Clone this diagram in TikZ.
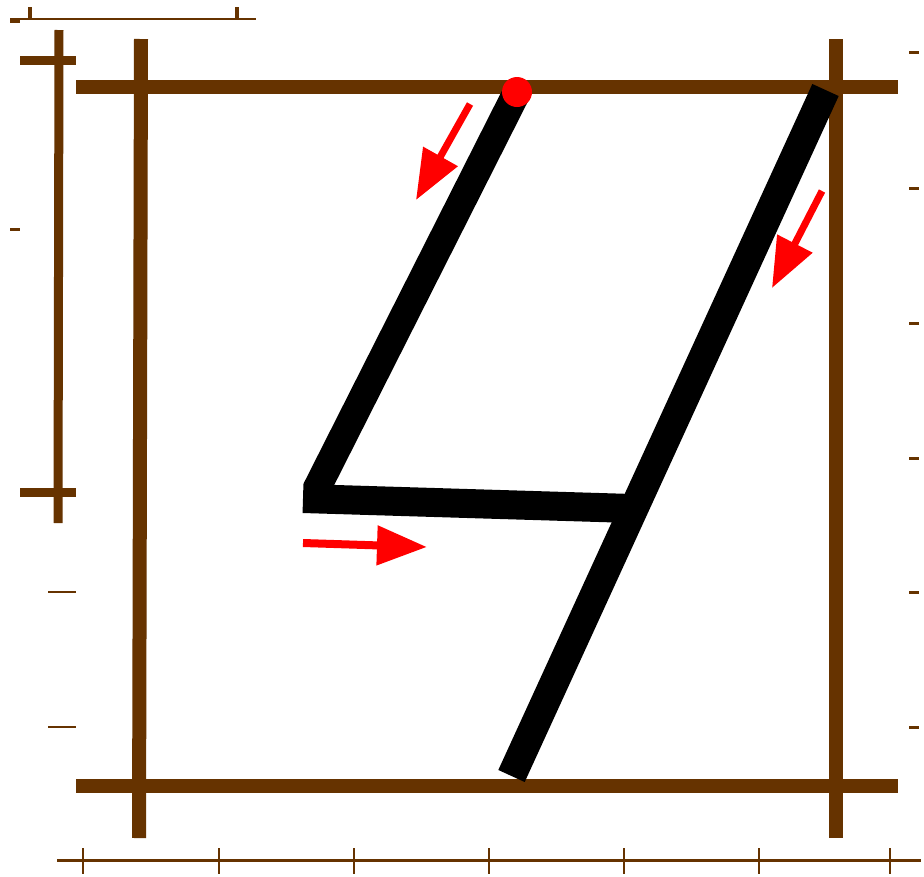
\documentclass[tikz,border=0pt]{standalone}
\usetikzlibrary{arrows.meta}
\definecolor{frame}{RGB}{102,51,0}
\definecolor{arr}{RGB}{255,0,0}
\begin{document}
\begin{tikzpicture}[x=1pt,y=-1pt,
  heavy/.style={draw=frame,line width=14pt},
  medium/.style={draw=frame,line width=9pt},
  thin/.style={draw=frame,line width=2.5pt},
  hair/.style={draw=frame,line width=1.8pt},
  stroke/.style={draw=black,line width=28pt},
  redarrow/.style={draw=arr,line width=7pt,-{Triangle[length=50pt,width=38pt]}}]
\useasboundingbox[fill=white] (0,0) rectangle (924,876);
% top-left ruler
\draw[hair] (10,19) -- (256,19);
\draw[thin,line width=3.5pt] (30,7) -- (30,19);
\draw[thin,line width=3.5pt] (237,7) -- (237,19);
\draw[thin,line width=3pt] (10,21) -- (20,21);
% left ruler
\draw[medium] (59,30) -- (58,523);
\draw[medium] (20,60) -- (76,60);
\draw[medium] (20,492) -- (76,492);
\draw[thin,line width=3pt] (10,229) -- (20,229);
\draw[thin] (48,592) -- (76,592);
\draw[thin] (48,727) -- (76,727);
% right ticks
\foreach \y in {52,188,323,458,592,727}
  \draw[thin,line width=3pt] (909,\y) -- (919,\y);
% bottom ruler
\draw[thin,line width=3pt] (57,860) -- (921,860);
\foreach \x in {83,219,354,489,624,759,890}
  \draw[thin] (\x,848) -- (\x,874);
% main frame
\draw[heavy] (76,87) -- (898,87);
\draw[heavy] (76,786) -- (898,786);
\draw[heavy] (141,39) -- (139,838);
\draw[heavy] (836,39) -- (836,838);
% digit strokes
\coordinate (a1) at (517,92);
\coordinate (a2) at (316,490);
\coordinate (b1) at (303,498.5);
\coordinate (b2) at (632,508.5);
\coordinate (c1) at (825.5,90);
\coordinate (c2) at (511.5,776);
\draw[stroke] (a1) -- (a2);
\draw[stroke,line width=29pt] (b1) -- (b2);
\draw[stroke,line width=29pt] (c1) -- (c2);
% start dot
\fill[arr] (517,92) circle (15);
% direction arrows
\draw[redarrow] (470,104) -- (416,200);
\draw[redarrow] (822,191) -- (772,288);
\draw[redarrow,line width=8pt] (303,543) -- (427,547);
\end{tikzpicture}
\end{document}
